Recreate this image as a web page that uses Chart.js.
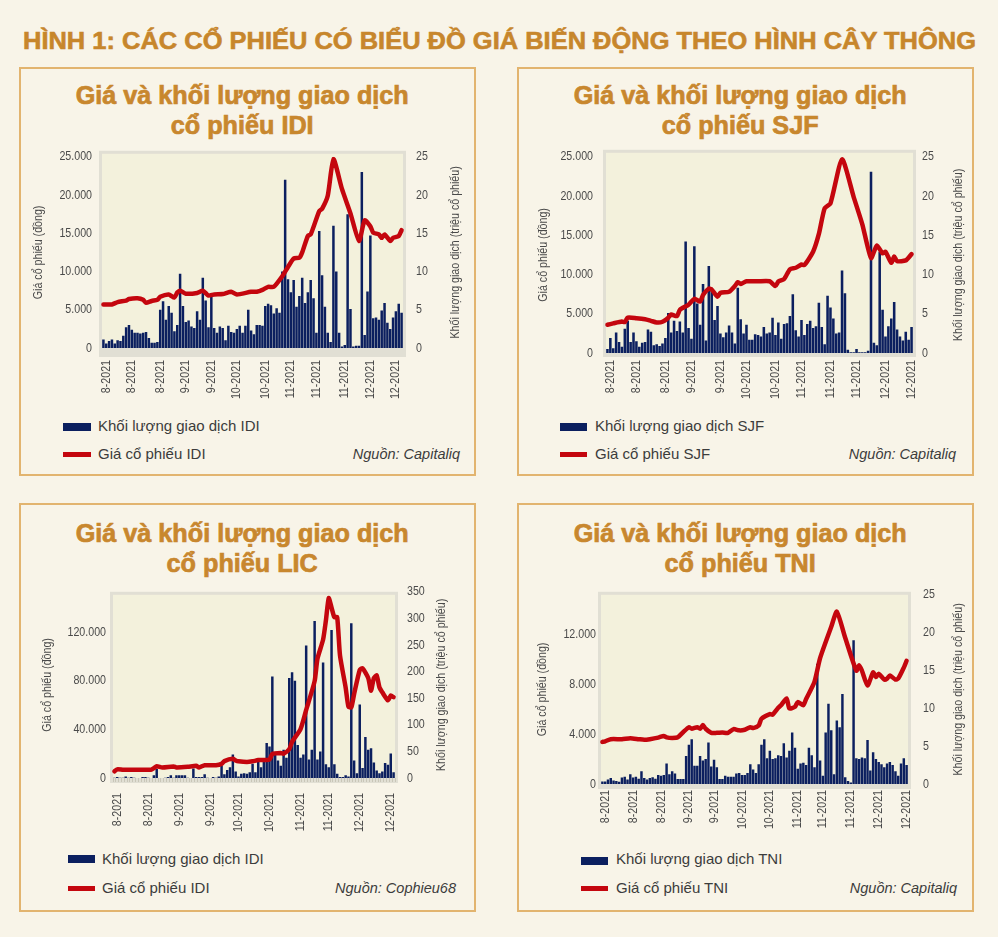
<!DOCTYPE html>
<html>
<head>
<meta charset="utf-8">
<script src="https://cdn.jsdelivr.net/npm/chart.js@4"></script>
<style>
body { margin:0; background:#f8f4e8; width:998px; height:937px; position:relative; overflow:hidden; font-family:"Liberation Sans", Arial, sans-serif; }
#title { position:absolute; left:0; width:998px; top:26px; text-align:center; color:#c7862c; font-weight:bold; font-size:24.5px; line-height:30px; white-space:nowrap; -webkit-text-stroke:0.6px #c7862c; }
.fit { display:inline-block; transform-origin:50% 50%; }
.panel { position:absolute; border:2px solid #e2b46f; box-sizing:border-box; width:457px; height:409px; }
.ptitle { position:absolute; width:500px; text-align:center; color:#c8872e; font-weight:bold; font-size:25px; line-height:30px; white-space:nowrap; -webkit-text-stroke:0.7px #c8872e; }
canvas { position:absolute; }
.leg { position:absolute; font-size:15px; color:#3c3c3c; white-space:nowrap; line-height:18px; }
.sw { position:absolute; }
.src { position:absolute; width:200px; text-align:right; font-style:italic; font-size:14.5px; color:#3c3c3c; line-height:18px; }
</style>
</head>
<body>
<div id="title"><span class="fit">HÌNH 1: CÁC CỔ PHIẾU CÓ BIỂU ĐỒ GIÁ BIẾN ĐỘNG THEO HÌNH CÂY THÔNG</span></div>
<script>
// tick labels
const months12 = ['8-2021','8-2021','8-2021','9-2021','9-2021','10-2021','10-2021','11-2021','11-2021','11-2021','12-2021','12-2021'];
const months10 = ['8-2021','8-2021','9-2021','9-2021','10-2021','10-2021','11-2021','11-2021','12-2021','12-2021'];

// IDI
const idiVolume = [1.1,0.6,0.9,1.1,0.6,1.0,0.9,1.6,2.7,3.0,2.4,2.0,2.0,1.9,2.0,2.1,1.3,0.7,0.7,0.8,
  5.0,6.1,3.7,5.5,4.6,2.2,3.0,9.7,5.5,3.4,
  3.6,2.8,2.6,4.8,3.7,9.2,6.2,2.7,6.7,2.6,
  2.0,2.8,2.6,1.0,2.9,2.1,2.0,2.5,2.9,2.0,
  2.9,5.0,2.3,1.8,3.0,3.0,2.9,5.5,5.8,5.6,
  4.5,5.2,4.6,10,22,9,7.3,8.9,5.4,6.8,
  9.2,5.9,7.3,8.9,6.5,2.0,15.3,9.5,5.4,2.0,
  0.8,16,10,2.0,0.2,0.4,17.5,5.1,0.2,0.3,
  0.3,23,1.7,7.4,14.7,3.9,4.0,3.7,4.9,5.9,
  3.3,2.5,4.0,4.8,5.8,4.6];
const idiPriceIdx = [0,3,5,8,9,12,14,15,17,19,20,23,25,26,27,29,33,35,37,39,42,45,47,52,54,56,58,60,63,65,67,69,70,72,73,76,77,79,81,84,87,90,92,94,95,97,98,99,101,102,104,105];
const idiPrice = [5700,5700,6000,6200,6400,6500,6300,5900,6150,6300,6700,7000,6600,7250,7500,7100,7200,7500,6850,7000,7050,7350,7000,7350,7350,7600,8000,8000,9400,10600,11700,11800,12500,14650,14850,17900,18200,19900,24700,20800,17600,14000,16700,15900,15100,14850,14400,14850,14000,14400,14650,15400];
const idiTickIdx = [1,10,20,29,38,47,57,66,75,85,94,103];

// SJF
const sjfVolume = [0.5,1.9,0.6,2.6,1.4,0.8,3.1,4.1,1.4,2.6,1.5,0.8,1.3,1.4,3.0,2.7,1.0,1.1,0.9,1.2,1.9,5.1,2.6,4.1,2.8,4.0,2.6,14.2,
  3.2,1.8,13.6,6.3,3.6,8.8,1.6,11.1,8.3,4.2,
  6.0,2.5,2.0,2.6,3.5,2.6,1.2,8.3,4.3,2.5,
  3.6,1.7,1.7,2.4,2.3,2.1,3.3,2.5,2.6,4.5,
  2.3,3.9,1.8,3.7,3.8,4.7,7.5,2.9,2.1,4.2,
  2.3,3.7,4.1,3.2,3.4,6.4,3.3,1.1,7.3,5.8,
  4.4,2.5,2.6,10.5,7.6,0.4,0.1,0.1,0.5,0.1,
  0.1,0.1,0.3,23.1,1.3,1.0,12.9,5.5,2.1,3.4,
  4.4,6.5,3.0,2.1,1.6,2.7,1.7,3.3];
const sjfPriceIdx = [0,2,5,6,7,10,13,15,17,19,21,22,24,25,28,30,32,33,35,36,38,39,42,44,45,46,48,52,56,58,59,61,63,65,67,68,71,73,75,77,81,85,88,91,93,95,96,98,99,100,103,105];
const sjfPrice = [3600,3770,4000,3940,4500,4430,4300,4100,3900,3980,4500,4900,4700,5500,6150,6900,6560,7380,8200,8080,7180,7670,7800,8530,9020,8800,9140,9140,9140,8530,9100,9430,10660,10860,11280,11200,12900,15170,18450,19060,24680,19900,16400,12100,13700,12700,12900,11500,12300,11700,11800,12600];
const sjfTickIdx = [1,10,20,29,39,48,58,67,77,86,96,105];

// LIC
const licVolume = [0.5,2,0.5,0.5,3,0.5,2,0.5,0,0,2,2,0.5,0,5,17,0,0,0.5,2,5,0.5,5,5,5,5,0.5,0,18,2,2,2,7,0.5,0,2,0.5,3,
  23,7,15,20,44,12,3,8,9,8,
  11,27,11,31,20,33,66,59,191,48,
  33,23,53,38,188,199,183,62,38,44,
  249,35,53,295,35,50,217,26,20,278,
  26,8,2,2,5,3,291,33,9,138,
  19,77,53,56,29,14,9,12,28,25,
  46,11];
const licPriceIdx = [0,1,3,7,13,14,15,17,21,22,26,29,30,32,36,38,39,42,43,44,47,49,51,53,55,56,59,60,62,63,66,68,71,72,74,75,76,77,78,79,80,82,83,84,85,87,88,90,91,92,93,94,95,97,98,99];
const licPrice = [5500,7100,6800,6800,6800,8100,9700,8700,9500,8700,9200,10000,8700,10500,10500,11600,13900,15800,14400,13700,13100,13700,14700,14700,15200,19700,20500,20000,23600,29700,40200,55900,79600,98000,113700,129500,147800,140000,132100,132100,100600,74300,58600,58000,69000,88800,90100,82200,71700,82200,84300,74300,70400,63800,67800,66400];
const licTickIdx = [1,12,23,34,44,55,66,76,87,98];

// TNI
const tniVolume = [0.33,0.33,0.6,0.8,0.45,0.4,0.3,0.85,0.95,0.6,1.3,0.85,0.95,0.7,1.7,0.8,0.6,0.8,0.9,0.7,1.2,
  1.1,1.2,2.7,1.3,1.7,1.4,0.65,0.65,0.65,3.7,
  5.2,5.9,2.4,2.4,3.7,3.1,3.3,5.5,2.3,3.2,
  2.2,0.65,0.65,1.1,0.95,0.95,0.95,1.4,1.45,1.2,
  1.2,1.45,2.6,1.9,1.45,2.6,5.2,5.9,3.4,4.4,
  3.3,3.4,3.8,3.7,5.4,3.5,4.4,6.8,4.8,2.0,
  2.7,2.8,2.5,4.8,3.8,2.2,15.9,3.1,1.1,6.8,
  10.6,7.1,1.3,8.4,7.5,11.9,0.9,0.4,0.2,19.0,
  3.4,3.3,3.5,3.4,5.8,1.8,4.2,3.3,2.9,2.6,
  2.2,2.7,2.9,2.5,1.7,1.1,2.7,3.4,2.5];
const tniPriceIdx = [0,1,3,7,10,13,15,17,20,22,23,25,27,29,31,32,34,35,36,37,39,41,43,45,47,49,51,53,54,56,57,60,61,63,64,66,67,69,70,72,73,76,78,82,84,87,91,92,93,95,97,98,99,101,102,103,105,106,108,109];
const tniPrice = [3380,3430,3600,3600,3680,3600,3550,3600,3730,3860,3750,3700,3750,4180,4560,4440,4560,4440,4740,4440,4110,4110,4130,4110,4410,4310,4360,4560,4490,4690,5240,5620,5570,6120,6330,6880,6070,6200,6580,6330,6830,8220,10110,12630,13840,11750,9100,9550,9100,7910,8970,8590,8850,8390,8470,8720,8390,8470,9350,9900];
const tniTickIdx = [1,11,21,31,40,50,60,70,79,89,99,109];

const NAVY = '#0b1f5f';
const RED = '#c4060e';
const TICK_FONT = { family: '"Liberation Sans", Arial, sans-serif', size: 13 };
const TICK_COLOR = '#4a4a4a';

function fmt(v) { return String(v).replace(/\B(?=(\d{3})+(?!\d))/g, '.'); }

// canvas text drawn at 82% width, like a narrow face
function narrowText(ctx, k) {
  const fill = ctx.fillText;
  ctx.fillText = function (text, x, y) {
    this.save();
    this.translate(x, y);
    this.scale(k, 1);
    fill.call(this, text, 0, 0);
    this.restore();
  };
}

const plotFrame = {
  id: 'plotFrame',
  beforeDraw(chart, args, o) {
    const a = chart.chartArea, ctx = chart.ctx;
    ctx.save();
    ctx.fillStyle = '#e1dfd4';
    ctx.fillRect(a.left - 3, a.top - o.up - 3, a.width + 6, a.height + o.up + 3 + o.down);
    ctx.fillStyle = '#f3f1dc';
    ctx.fillRect(a.left, a.top - o.up, a.width, a.height + o.up);
    ctx.restore();
  }
};

const rightTitle = {
  id: 'rightTitle',
  afterDraw(chart, args, o) {
    const a = chart.chartArea, ctx = chart.ctx;
    ctx.save();
    ctx.translate(o.x, (a.top + a.bottom) / 2);
    ctx.rotate(-Math.PI / 2);
    ctx.font = '13px "Liberation Sans", Arial, sans-serif';
    ctx.fillStyle = TICK_COLOR;
    ctx.textAlign = 'center';
    ctx.textBaseline = 'middle';
    ctx.fillText('Khối lượng giao dịch (triệu cổ phiếu)', 0, 0);
    ctx.restore();
  }
};

const panels = [
  { volume: idiVolume, priceIdx: idiPriceIdx, price: idiPrice, tickIdx: idiTickIdx, tickLabels: months12,
    priceMax: 25000, priceStep: 5000, volMax: 25, volStep: 5,
    name: 'cổ phiếu IDI', volLabel: 'Khối lượng giao dịch IDI', priceLabel: 'Giá cổ phiếu IDI', source: 'Nguồn: Capitaliq',
    L: { px: 19, py: 67, tcx: 242, tty: 80, cx: 25, cy: 136, cw: 445, ch: 270, l: 102, t: 150, r: 403, b: 348,
         pl: 10, pr: 13, pxl: 12, ltx: 38, rtx: 455, up: 3, down: 9, xticks: false,
         sx: 63, sw: 28, by: 423, ly: 452, tx: 98, ty1: 417, ty2: 445, srcR: 460 } },
  { volume: sjfVolume, priceIdx: sjfPriceIdx, price: sjfPrice, tickIdx: sjfTickIdx, tickLabels: months12,
    priceMax: 25000, priceStep: 5000, volMax: 25, volStep: 5,
    name: 'cổ phiếu SJF', volLabel: 'Khối lượng giao dịch SJF', priceLabel: 'Giá cổ phiếu SJF', source: 'Nguồn: Capitaliq',
    L: { px: 517, py: 67, tcx: 740, tty: 80, cx: 522, cy: 136, cw: 446, ch: 270, l: 606, t: 150, r: 913, b: 353,
         pl: 13, pr: 9, pxl: 7, ltx: 543, rtx: 958, up: 4, down: 4, xticks: false,
         sx: 560, sw: 27, by: 423, ly: 452, tx: 595, ty1: 417, ty2: 445, srcR: 956 } },
  { volume: licVolume, priceIdx: licPriceIdx, price: licPrice, tickIdx: licTickIdx, tickLabels: months10,
    priceMax: 153000, priceStep: 40000, volMax: 350, volStep: 50,
    name: 'cổ phiếu LIC', volLabel: 'Khối lượng giao dịch IDI', priceLabel: 'Giá cổ phiếu IDI', source: 'Nguồn: Cophieu68',
    L: { px: 19, py: 503, tcx: 242, tty: 518, cx: 25, cy: 572, cw: 445, ch: 270, l: 113, t: 583, r: 395, b: 778,
         pl: 7, pr: 12, pxl: 11, ltx: 47, rtx: 441, up: -3, down: 5, xticks: true,
         sx: 68, sw: 27, by: 855, ly: 886, tx: 102, ty1: 850, ty2: 879, srcR: 456 } },
  { volume: tniVolume, priceIdx: tniPriceIdx, price: tniPrice, tickIdx: tniTickIdx, tickLabels: months12,
    priceMax: 15200, priceStep: 4000, volMax: 25, volStep: 5,
    name: 'cổ phiếu TNI', volLabel: 'Khối lượng giao dịch TNI', priceLabel: 'Giá cổ phiếu TNI', source: 'Nguồn: Capitaliq',
    L: { px: 517, py: 503, tcx: 740, tty: 518, cx: 522, cy: 572, cw: 446, ch: 270, l: 601, t: 582, r: 908, b: 784,
         pl: 5, pr: 15, pxl: 6, ltx: 542, rtx: 958, up: 0, down: 5, xticks: false,
         sx: 581, sw: 27, by: 857, ly: 886, tx: 616, ty1: 850, ty2: 879, srcR: 957 } }
];

function el(tag, cls, css, html) {
  const d = document.createElement(tag);
  if (cls) d.className = cls;
  Object.assign(d.style, css);
  if (html !== undefined) d.innerHTML = html;
  document.body.appendChild(d);
  return d;
}

function build(p) {
  const L = p.L;
  el('div', 'panel', { left: L.px + 'px', top: L.py + 'px' });
  el('div', 'ptitle', { left: (L.tcx - 250) + 'px', top: L.tty + 'px' },
     '<span class="fit">Giá và khối lượng giao dịch<br>' + p.name + '</span>');

  const cv = document.createElement('canvas');
  cv.width = L.cw; cv.height = L.ch;
  cv.style.left = L.cx + 'px'; cv.style.top = L.cy + 'px';
  document.body.appendChild(cv);
  narrowText(cv.getContext('2d'), 0.82);

  const labels = p.volume.map((v, i) => {
    const k = p.tickIdx.indexOf(i);
    return k < 0 ? '' : p.tickLabels[k];
  });
  const price = p.volume.map(() => null);
  p.priceIdx.forEach((ix, k) => { price[ix] = p.price[k]; });

  const chart = new Chart(cv, {
    data: {
      labels: labels,
      datasets: [
        { type: 'line', label: p.priceLabel, data: price, yAxisID: 'y', borderColor: RED, borderWidth: 4.5,
          pointRadius: 0, tension: 0.2, spanGaps: true, order: 0, borderCapStyle: 'round', borderJoinStyle: 'round' },
        { type: 'bar', label: p.volLabel, data: p.volume, yAxisID: 'y2', backgroundColor: NAVY,
          barPercentage: 0.88, categoryPercentage: 1, order: 1 }
      ]
    },
    options: {
      responsive: false,
      animation: false,
      devicePixelRatio: 1,
      layout: { padding: { top: L.t - L.cy, left: 0, right: 0, bottom: 0 } },
      plugins: {
        legend: { display: false },
        tooltip: { enabled: false },
        plotFrame: { up: L.up, down: L.down },
        rightTitle: { x: L.rtx - L.cx }
      },
      scales: {
        x: {
          grid: L.xticks ? { display: true, drawOnChartArea: false, drawTicks: true, tickLength: 4, color: '#c9c6b8' }
                         : { display: false, drawTicks: false },
          border: { display: false },
          ticks: { autoSkip: false, maxRotation: 90, minRotation: 90, padding: L.pxl, font: TICK_FONT, color: TICK_COLOR,
                   callback: (v, i) => labels[i] },
          afterFit: s => { s.height = L.cy + L.ch - L.b; }
        },
        y: {
          position: 'left', min: 0, max: p.priceMax, bounds: 'data',
          grid: { display: false, drawTicks: false }, border: { display: false },
          ticks: { padding: L.pl, font: TICK_FONT, color: TICK_COLOR, callback: v => fmt(v) },
          afterBuildTicks: s => {
            const t = [];
            for (let v = 0; v <= p.priceMax; v += p.priceStep) t.push({ value: v });
            s.ticks = t;
          },
          title: { display: true, text: 'Giá cổ phiếu (đồng)', color: TICK_COLOR,
                   font: { family: TICK_FONT.family, size: 13 }, padding: { top: L.ltx - L.cx - 7.8, bottom: 0 } },
          afterFit: s => { s.width = L.l - L.cx; }
        },
        y2: {
          position: 'right', min: 0, max: p.volMax, bounds: 'data',
          grid: { display: false, drawTicks: false }, border: { display: false },
          ticks: { padding: L.pr, font: TICK_FONT, color: TICK_COLOR },
          afterBuildTicks: s => {
            const t = [];
            for (let v = 0; v <= p.volMax; v += p.volStep) t.push({ value: v });
            s.ticks = t;
          },
          afterFit: s => { s.width = L.cx + L.cw - L.r; }
        }
      }
    },
    plugins: [plotFrame, rightTitle]
  });

  const ds = chart.data.datasets;
  el('div', 'sw', { left: L.sx + 'px', top: L.by + 'px', width: L.sw + 'px', height: '8px', background: NAVY });
  el('div', 'leg', { left: L.tx + 'px', top: L.ty1 + 'px' }, ds[1].label);
  el('div', 'sw', { left: L.sx + 'px', top: L.ly + 'px', width: L.sw + 'px', height: '5px', background: RED });
  el('div', 'leg', { left: L.tx + 'px', top: L.ty2 + 'px' }, ds[0].label);
  el('div', 'src', { left: (L.srcR - 200) + 'px', top: L.ty2 + 'px' }, p.source);
}

panels.forEach(build);

function fitText(span, target) {
  const w = span.getBoundingClientRect().width;
  span.style.transform = 'scaleX(' + (target / w) + ')';
}
fitText(document.querySelector('#title .fit'), 953);
document.querySelectorAll('.ptitle .fit').forEach(s => fitText(s, 333));
</script>
</body>
</html>
